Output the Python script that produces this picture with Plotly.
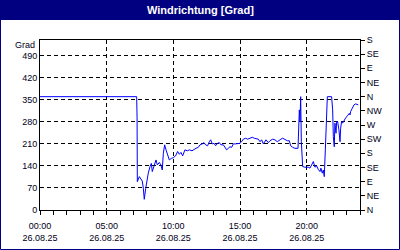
import plotly.graph_objects as go

# --- data ---
hours = [0.0, 7.25, 7.28, 7.3, 7.45, 7.55, 7.67, 7.75, 7.82, 7.93, 8.05, 8.12, 8.25, 8.35, 8.42,
         8.55, 8.7, 8.8, 8.95, 9.07, 9.17, 9.25, 9.35, 9.45, 9.57, 9.7, 9.85, 10.0, 10.17, 10.32,
         10.45, 10.57, 10.7, 10.87, 11.05, 11.2, 11.4, 11.55, 11.7, 11.87, 12.0, 12.17, 12.3, 12.42,
         12.57, 12.7, 12.8, 12.92, 13.05, 13.17, 13.32, 13.45, 13.57, 13.75, 13.87, 14.0, 14.12,
         14.25, 14.37, 14.5, 14.67, 14.87, 15.0, 15.12, 15.25, 15.42, 15.57, 15.75, 15.92, 16.07,
         16.25, 16.37, 16.5, 16.62, 16.75, 16.83, 16.95, 17.12, 17.25, 17.45, 17.62, 17.8, 17.95,
         18.07, 18.2, 18.37, 18.55, 18.7, 18.8, 18.95, 19.12, 19.35, 19.42, 19.45, 19.5, 19.55,
         19.6, 19.65, 19.7, 19.87, 20.12, 20.25, 20.37, 20.5, 20.62, 20.75, 20.87, 21.0, 21.07,
         21.17, 21.25, 21.32, 21.4, 21.45, 21.5, 21.55, 21.87, 21.95, 22.0, 22.07, 22.12, 22.2,
         22.25, 22.32, 22.42, 22.5, 22.55, 22.62, 22.7, 22.8, 22.92, 23.05, 23.12, 23.2, 23.25,
         23.3, 23.42, 23.55, 23.67, 23.8, 23.87]
direction = [360, 360, 295, 90, 106, 98, 92, 69, 34, 69, 106, 117, 138, 148, 122,
             143, 159, 143, 151, 143, 127, 180, 207, 191, 175, 159, 164, 166, 172, 186,
             177, 183, 172, 191, 188, 191, 188, 193, 196, 199, 207, 210, 214, 207,
             204, 217, 223, 210, 212, 204, 212, 214, 207, 207, 199, 191, 196,
             201, 199, 210, 210, 210, 212, 217, 225, 228, 225, 228, 231, 228,
             225, 225, 217, 223, 210, 217, 223, 214, 220, 225, 223, 217, 220,
             225, 228, 223, 220, 220, 204, 199, 196, 196, 255, 318, 281, 360,
             217, 186, 138, 136, 136, 133, 143, 154, 136, 140, 129, 122, 133,
             117, 127, 106, 191, 265, 318, 360, 360, 318, 233, 201, 276, 244,
             281, 281, 255, 217, 260, 281, 276, 286, 292, 299, 302, 307, 302,
             313, 323, 334, 337, 334, 334]

x_tick_vals = [0, 5, 10, 15, 20]
x_time_labels = ["00:00", "05:00", "10:00", "15:00", "20:00"]
x_date_labels = ["26.08.25", "26.08.25", "26.08.25", "26.08.25", "26.08.25"]
y_left_vals = [0, 70, 140, 210, 280, 350, 420, 490]
y_right_vals = [0, 45, 90, 135, 180, 225, 270, 315, 360, 405, 450, 495, 540]
y_right_labels = ["N", "NE", "E", "SE", "S", "SW", "W", "NW", "N", "NE", "E", "SE", "S"]

NAVY = "#000080"
FONT = "Liberation Sans"
TXT = "#000020"

fig = go.Figure()
fig.add_trace(go.Scatter(x=hours, y=direction, mode="lines",
                         line=dict(color="#0000FF", width=1), showlegend=False,
                         hoverinfo="skip"))
fig.add_trace(go.Scatter(x=hours, y=direction, mode="lines", xaxis="x2", yaxis="y2",
                         line=dict(color="#0000FF", width=1), opacity=0,
                         showlegend=False, hoverinfo="skip"))

fig.update_layout(
    width=400, height=250,
    margin=dict(l=40, r=40, t=40, b=40, autoexpand=False),
    paper_bgcolor="white", plot_bgcolor="white",
    font=dict(family=FONT, size=9, color=TXT),
    xaxis=dict(range=[0, 24], tickvals=x_tick_vals, ticktext=x_time_labels,
               showline=True, linecolor="black", linewidth=1, mirror=True,
               ticks="outside", ticklen=4, tickcolor="black",
               showgrid=True, gridcolor="black", griddash="4px,3px", gridwidth=1,
               zeroline=False, ticklabelstandoff=3, automargin=False,
               minor=dict(tickvals=list(range(25)), ticks="outside", ticklen=4,
                          tickcolor="black", showgrid=False),
               tickfont=dict(family=FONT, size=9, color=TXT)),
    xaxis2=dict(range=[0, 24], overlaying="x", side="bottom", anchor="y",
                tickvals=x_tick_vals, ticktext=x_date_labels,
                ticks="", showgrid=False, zeroline=False, showline=False,
                ticklabelstandoff=21, automargin=False,
                tickfont=dict(family=FONT, size=9, color=TXT)),
    yaxis=dict(range=[0, 540], tickvals=y_left_vals,
               showline=True, linecolor="black", linewidth=1, mirror=True,
               ticks="", showgrid=True, gridcolor="black", griddash="4px,3px",
               gridwidth=1, zeroline=False, automargin=False,
               tickfont=dict(family=FONT, size=9, color=TXT)),
    yaxis2=dict(range=[0, 540], overlaying="y", side="right", anchor="x",
                tickvals=y_right_vals, ticktext=y_right_labels,
                ticks="outside", ticklen=4, tickcolor="black", automargin=False,
                showline=True, linecolor="black", showgrid=False, zeroline=False,
                tickfont=dict(family=FONT, size=9, color=TXT)),
)

# window frame and title bar
fig.add_shape(type="rect", xref="paper", yref="paper",
              x0=-40/320, x1=360/320, y0=(210-20)/170, y1=210/170,
              fillcolor=NAVY, line=dict(width=0), layer="above")
fig.add_shape(type="rect", xref="paper", yref="paper",
              x0=-39.5/320, x1=359.5/320, y0=(210-249.5)/170, y1=210/170,
              fillcolor="rgba(0,0,0,0)", line=dict(color=NAVY, width=1), layer="above")
fig.add_annotation(text="<b>Windrichtung [Grad]</b>", xref="paper", yref="paper",
                   x=0.5, y=(210-10)/170, showarrow=False, xanchor="center", yanchor="middle",
                   font=dict(family=FONT, size=11, color="white"))
fig.add_annotation(text="Grad", xref="paper", yref="paper",
                   x=-3/320, y=(210-45)/170, showarrow=False, xanchor="right", yanchor="middle",
                   xshift=0, font=dict(family=FONT, size=9, color=TXT))

fig.write_html("out.html")
